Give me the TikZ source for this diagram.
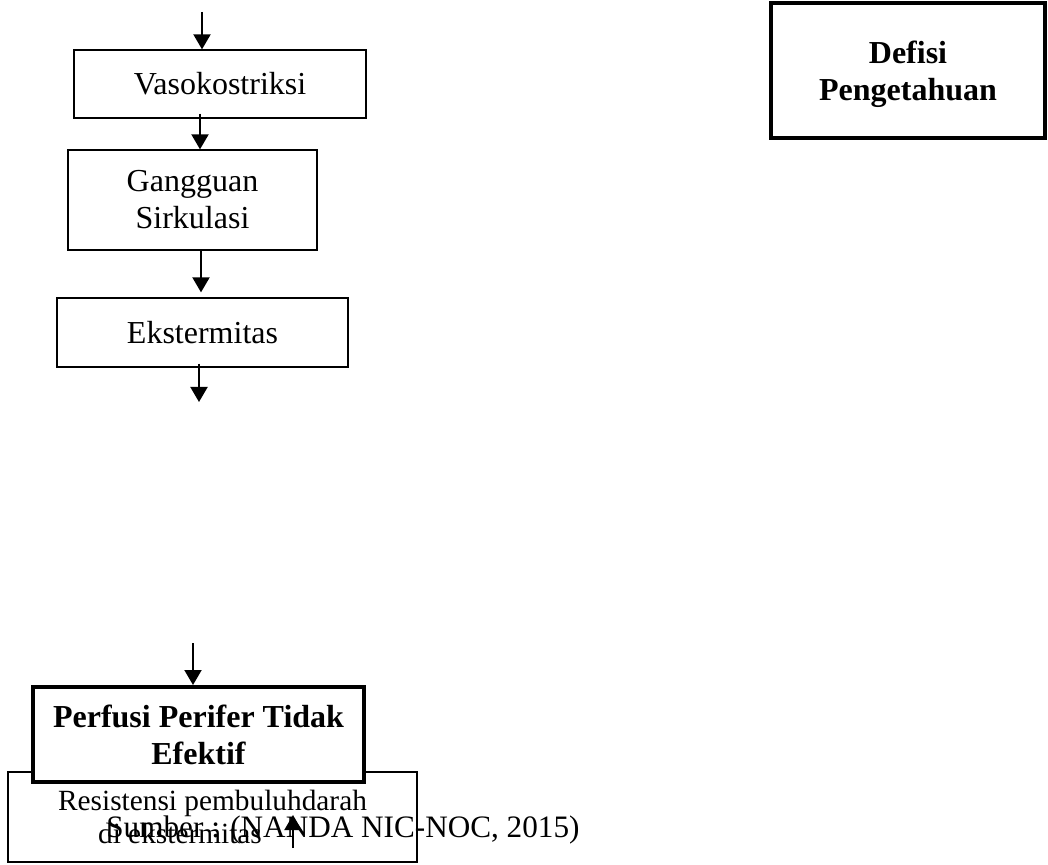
\documentclass[tikz,border=0pt]{standalone}
\usepackage{fontspec}
\setmainfont{Liberation Serif}
\usepackage{tikz}
\usetikzlibrary{arrows.meta, positioning}
\definecolor{ink}{RGB}{0,0,0}
\tikzset{
  flowBox/.style={
    draw=ink,
    line width=0.65pt,
    align=center,
    inner sep=0pt,
    fill=white,
    font=\fontsize{16}{18.5}\selectfont
  },
  keyBox/.style={flowBox, line width=2pt, font=\fontsize{16}{18.5}\selectfont\bfseries},
  noteBox/.style={flowBox, align=left, font=\fontsize{14.67}{16.5}\selectfont},
  flow/.style={-{Triangle[length=7.5pt,width=8.5pt]}, line width=1pt, draw=ink},
  source/.style={inner sep=0pt, font=\fontsize{15.6}{18}\selectfont}
}

\begin{document}
\begin{tikzpicture}[x=0.5pt, y=-0.5pt]
  \useasboundingbox (0,0) rectangle (1048,865);

  \node[flowBox, minimum width=146pt, minimum height=34pt] (vaso) at (220,84) {Vasokostriksi};
  \node[flowBox, minimum width=124.5pt, minimum height=50pt] (sirkulasi) at (192.5,200) {Gangguan\\Sirkulasi};
  \node[flowBox, minimum width=145.5pt, minimum height=34.5pt] (ekstremitas) at (202.5,332.5) {Ekstermitas};
  \node[keyBox, minimum width=137pt, minimum height=67.5pt] (defisi) at (908,70.5) {\rule{0pt}{15pt}Defisi\\Pengetahuan};

  \node[noteBox, minimum width=204.5pt, minimum height=45pt] (resistensi) at (212.5,817) {Resistensi pembuluhdarah\\\hspace*{20pt}di ekstermitas};
  \node[keyBox, minimum width=165.5pt, minimum height=47.5pt] (perfusi) at (198.5,734.5) {Perfusi Perifer Tidak\\Efektif};
  \node[source, anchor=base west] (sumber) at (106,837) {Sumber : (NANDA NIC-NOC, 2015)};

  \coordinate (vasoIn) at (202,12);
  \coordinate (ekstOut) at (199,402);
  \coordinate (perfIn) at (193,643);
  \coordinate (resBase) at (293,848);
  \coordinate (resTop) at (293,815);

  \draw[flow] (vasoIn) -- (vasoIn |- vaso.north);
  \draw[flow] ([xshift=-10pt, yshift=2.5pt]vaso.south) -- ([xshift=-10pt]vaso.south |- sirkulasi.north);
  \draw[flow] ([xshift=4.25pt]sirkulasi.south) -- ([xshift=4.25pt, yshift=2.5pt]sirkulasi.south |- ekstremitas.north);
  \draw[flow] ([xshift=-1.75pt, yshift=2pt]ekstremitas.south) -- (ekstOut);
  \draw[flow] (perfIn) -- (perfIn |- perfusi.north);
  \draw[flow] (resBase) -- (resTop);
\end{tikzpicture}
\end{document}
